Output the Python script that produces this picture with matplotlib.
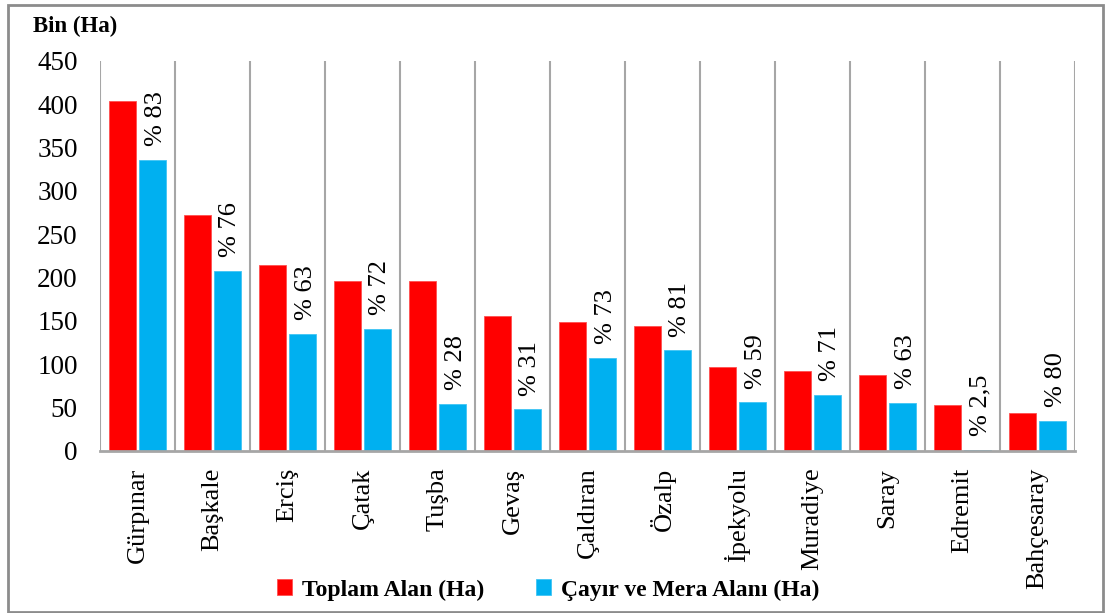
import numpy as np
import matplotlib
matplotlib.use("Agg")
import matplotlib.pyplot as plt
from matplotlib.patches import Rectangle

plt.rcParams["font.family"] = ["Liberation Serif", "DejaVu Serif"]

# Data (bin hektar)
districts = ["Gürpınar", "Başkale", "Erciş", "Çatak", "Tuşba", "Gevaş", "Çaldıran",
             "Özalp", "İpekyolu", "Muradiye", "Saray", "Edremit", "Bahçesaray"]
toplam = [404, 272, 215, 196, 196, 156, 149, 144, 97, 92, 88, 53, 44]
mera = [336, 208, 135, 141, 54, 48, 107, 116, 56, 65, 55, 1.3, 35]
oran = ["% 83", "% 76", "% 63", "% 72", "% 28", "% 31", "% 73",
        "% 81", "% 59", "% 71", "% 63", "% 2,5", "% 80"]

red = "#FF0000"
blue = "#00B0F0"
grid_col = "#A6A6A6"

fig = plt.figure(figsize=(11.05, 6.13), dpi=100)
ax = fig.add_axes([100 / 1105, 162 / 613, 975 / 1105, 390 / 613])

x = np.arange(len(districts))
w = 0.37
ax.bar(x - 0.2, toplam, w, color=red, edgecolor="#FF5050", linewidth=0.6,
       label="Toplam Alan (Ha)")
ax.bar(x + 0.2, mera, w, color=blue, edgecolor="#40C4F4", linewidth=0.6,
       label="Çayır ve Mera Alanı (Ha)")

for xi, v, t in zip(x, mera, oran):
    ax.annotate(t, (xi + 0.24, v), xytext=(0, 10), textcoords="offset points",
                rotation=90, ha="center", va="bottom", fontsize=19)

# category separators
ax.vlines(np.arange(len(districts) + 1) - 0.5, 0, 450, color=grid_col, lw=1.5)

ax.set_xlim(-0.5, len(districts) - 0.5)
ax.set_ylim(0, 450)
ax.set_yticks(np.arange(0, 451, 50))
ax.set_xticks(x)
ax.set_xticklabels(districts, rotation=90)
ax.tick_params(axis="both", length=0)
ax.tick_params(axis="x", pad=12, labelsize=19)
ax.tick_params(axis="y", pad=16, labelsize=19.5)
for s in ["top", "right", "left"]:
    ax.spines[s].set_visible(False)
ax.spines["bottom"].set_color(grid_col)
ax.spines["bottom"].set_linewidth(2)

fig.text(33 / 1105, 1 - 26 / 613, "Bin (Ha)", fontsize=16.5, fontweight="bold",
         va="center", ha="left")

fig.legend(loc="center", bbox_to_anchor=(548 / 1105, 1 - 590 / 613), ncol=2,
           frameon=False, prop={"size": 17, "weight": "bold"},
           handlelength=0.65, handleheight=0.65, handletextpad=0.4, columnspacing=2.2)

fig.patches.append(Rectangle((8 / 1105, 1 - 612 / 613), 1095 / 1105, 607 / 613,
                             transform=fig.transFigure, fill=False,
                             edgecolor="#8C8C8C", lw=2))

plt.savefig("out.png", dpi=100)
